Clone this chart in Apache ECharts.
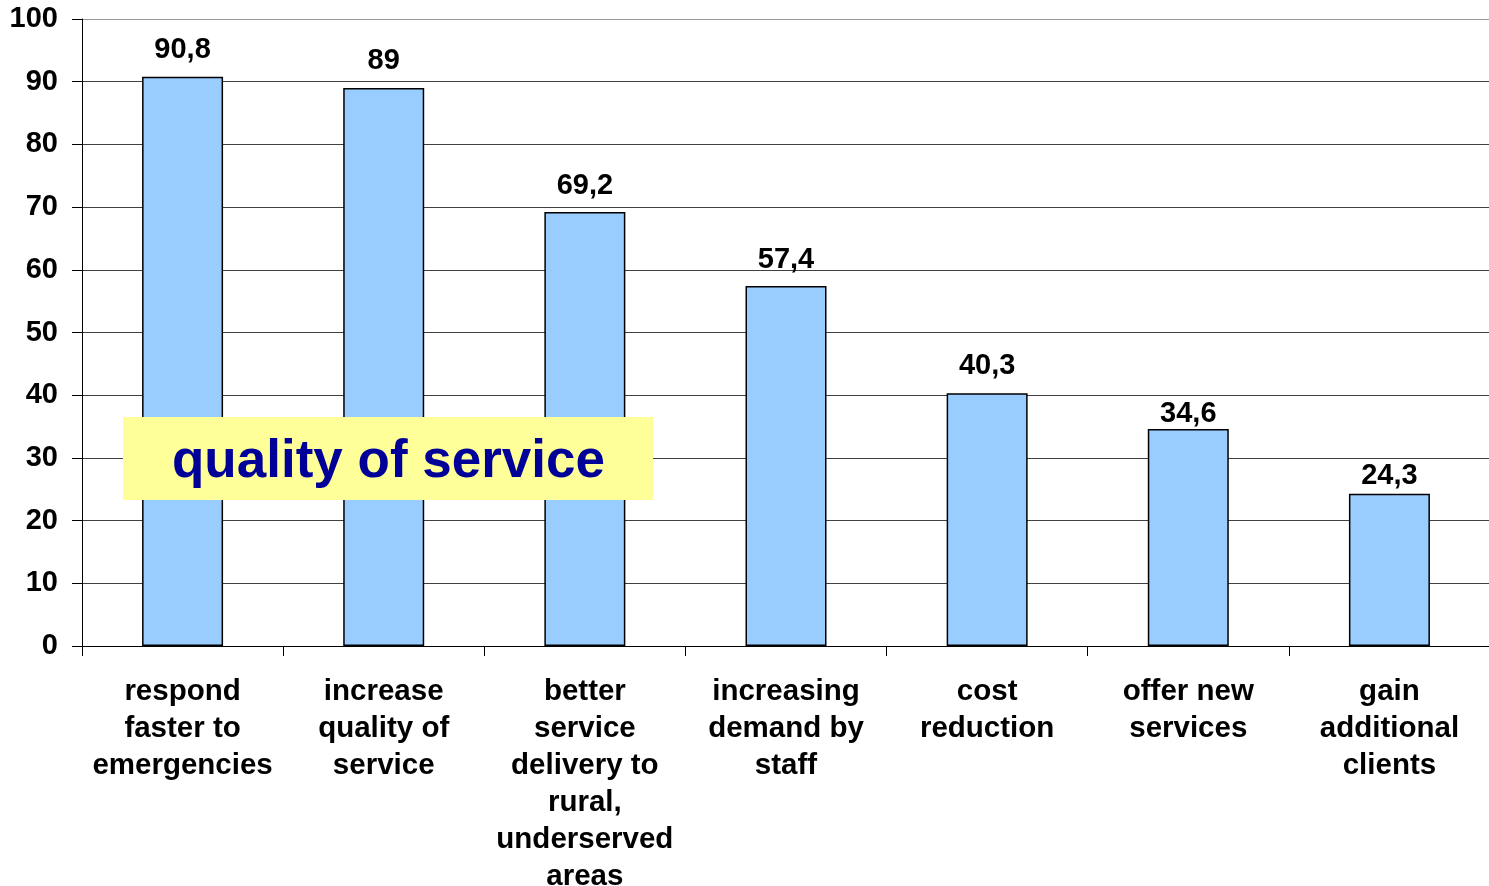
<!DOCTYPE html>
<html>
<head>
<meta charset="utf-8">
<script src="https://cdn.jsdelivr.net/npm/echarts@6/dist/echarts.min.js"></script>
<style>
html,body{margin:0;padding:0;background:#fff;overflow:hidden;}
#chart{width:1489px;height:886px;}
</style>
</head>
<body>
<div id="chart"></div>
<script>
const categories = [
  "respond\nfaster to\nemergencies",
  "increase\nquality of\nservice",
  "better\nservice\ndelivery to\nrural,\nunderserved\nareas",
  "increasing\ndemand by\nstaff",
  "cost\nreduction",
  "offer new\nservices",
  "gain\nadditional\nclients"
];
const values = [90.8, 89, 69.2, 57.4, 40.3, 34.6, 24.3];
const yTicks = [0, 10, 20, 30, 40, 50, 60, 70, 80, 90, 100];
const annotation = "quality of service";

const font = "'Liberation Sans', Arial, sans-serif";
// label gap above each bar (styling only)
const labelGap = [12, 12, 12, 12, 13, 1, 3];
const chart = echarts.init(document.getElementById('chart'));
const gridColors = yTicks.map(v => v === 100 ? '#999999' : '#404040');
chart.setOption({
  backgroundColor: '#ffffff',
  animation: false,
  grid: {left: 82, right: -1, top: 19, bottom: 240, containLabel: false, outerBoundsMode: 'none'},
  xAxis: {
    type: 'category',
    data: categories,
    boundaryGap: true,
    axisLine: {show: true, lineStyle: {color: '#000', width: 1}},
    axisTick: {show: true, length: 10, alignWithLabel: false, lineStyle: {color: '#000'}},
    axisLabel: {
      interval: 0, margin: 27, color: '#000', fontFamily: font,
      fontWeight: 'bold', fontSize: 29.5, lineHeight: 37
    },
    splitLine: {show: false}
  },
  yAxis: {
    type: 'value',
    min: yTicks[0], max: yTicks[yTicks.length - 1], interval: 10,
    axisLine: {show: true, lineStyle: {color: '#000', width: 1}},
    axisTick: {show: true, length: 10, lineStyle: {color: '#000'}},
    axisLabel: {
      margin: 24, color: '#000', fontFamily: font,
      fontWeight: 'bold', fontSize: 29
    },
    splitLine: {show: true, lineStyle: {color: gridColors, width: 1}}
  },
  series: [{
    type: 'bar',
    data: values.map((v, i) => ({value: v, label: {distance: labelGap[i]}})),
    barWidth: 81,
    z: 2,
    itemStyle: {color: '#99CCFF', borderColor: '#000', borderWidth: 1.5},
    label: {
      show: true, position: 'top', distance: 12,
      color: '#000', fontFamily: font, fontWeight: 'bold', fontSize: 29,
      formatter: p => String(p.value).replace('.', ',')
    }
  }],
  graphic: [
    {type: 'rect', left: 123, top: 417, z: 100, zlevel: 1,
     shape: {width: 530, height: 83},
     style: {fill: '#FFFF99'}},
    {type: 'text', left: 172, top: 436, z: 101, zlevel: 1,
     style: {text: annotation, fill: '#000099', font: 'bold 53px ' + font}}
  ]
});
</script>
</body>
</html>
